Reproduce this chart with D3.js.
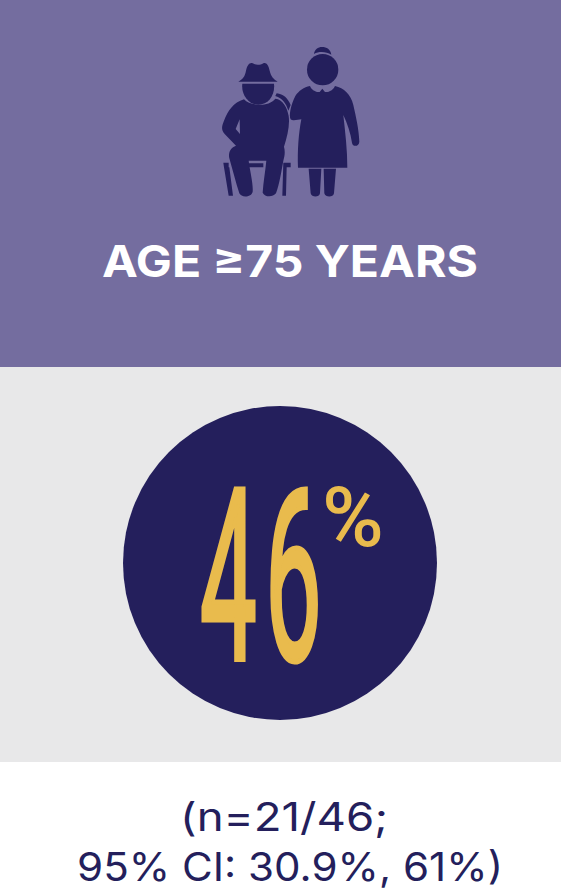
<!DOCTYPE html>
<html><head><meta charset="utf-8">
<script src="https://cdn.jsdelivr.net/npm/d3@7"></script>
<style>html,body{margin:0;padding:0;background:#fff}svg{display:block}</style>
</head><body><div id="c"></div>
<script>
const bandNames = ["header","result","footer"];
const bandEnds = [367,762,891];
const bandColors = ["#746d9f","#e8e8e9","#ffffff"];
const titleText = "AGE ≥75 YEARS";
const percentDigits = ["4","6"];
const countValue = [21,46];
const ciValues = ["30.9%","61%"];
const ink = "#241f5c", gold = "#e9bb4d";
const W=561,H=891;
const svg=d3.select("#c").append("svg").attr("width",W).attr("height",H);
svg.selectAll("rect.band").data(bandNames).join("rect").attr("class","band")
 .attr("x",0).attr("width",W)
 .attr("y",(d,i)=>i?bandEnds[i-1]:0)
 .attr("height",(d,i)=>bandEnds[i]-(i?bandEnds[i-1]:0))
 .attr("fill",(d,i)=>bandColors[i]);

const g=svg.append("g").attr("transform","translate(200,30) scale(0.3333)").attr("fill",ink);
const iconPaths=[
 "M115 155 C128 147 135 140 138 122 C142 104 150 96 158 100 C168 106 180 106 190 100 C198 96 205 104 209 122 C213 140 222 148 233 155 Z",
 "M127 161 L222 161 C226 195 205 224 175 224 C146 224 123 195 127 161 Z",
 "M132 208 C150 228 205 232 226 206 C248 208 262 232 266 258 C270 285 262 320 252 350 C256 365 254 378 250 392 C244 425 238 465 228 490 C218 503 194 502 188 488 C190 455 196 425 199 392 L146 392 C150 425 160 460 158 485 C155 502 124 504 118 490 C108 460 98 420 88 385 C84 368 92 352 108 347 L74 312 C64 300 64 292 72 272 C84 242 100 218 132 208 Z M119 268 L107 297 L120 312 Z M229 270 L231 308 L225 320 Z",
 "M70 398 L86 398 L86 412 L88 412 L99 497 L86 497 L72 412 Z M147 400 L190 400 L190 412 L147 412 Z M250 398 L272 398 L272 412 L260 412 L258 497 L247 497 Z",
 "M230 190 C250 192 264 205 272 225 L265 242 C258 220 248 205 226 198 Z",
 "M342 72 C344 58 354 51 366 51 C380 51 392 58 394 74 C378 64 356 64 342 72 Z",
 "M321 119 A47 47 0 1 1 415 119 A47 47 0 1 1 321 119 Z",
 "M330 168 C334 180 350 188 359 186 L367 176 L375 186 C386 188 400 180 405 168 C432 174 452 192 460 225 C468 260 477 300 478 335 C478 350 458 352 456 338 C452 310 442 280 430 255 C436 310 442 360 442 413 L294 413 C292 360 296 310 304 268 C295 268 280 275 272 268 C266 258 272 225 286 198 C296 182 312 172 330 168 Z",
 "M326 416 L364 416 L360 490 C358 503 335 503 332 490 Z M371 416 L408 416 L402 490 C400 503 376 503 373 490 Z"
];
g.selectAll("path").data(iconPaths).join("path").attr("d",d=>d);

svg.append("text").attr("x",102).attr("y",277)
 .attr("font-family","Inter").attr("font-weight",700).attr("font-size",44)
 .attr("textLength",376).attr("lengthAdjust","spacingAndGlyphs")
 .attr("fill","#fff").text(titleText);

svg.append("circle").attr("cx",280).attr("cy",563).attr("r",157).attr("fill",ink);

const digitX=d3.scaleOrdinal().domain(percentDigits).range([200,265]);
svg.selectAll("text.digit").data(percentDigits).join("text").attr("class","digit")
 .attr("transform",d=>`translate(${digitX(d)},660) scale(0.42,1)`)
 .attr("font-family","Roboto").attr("font-weight",400).attr("font-size",240)
 .attr("fill",gold).attr("stroke",gold).attr("stroke-width",4)
 .style("vector-effect","non-scaling-stroke").text(d=>d);
svg.append("text").attr("x",322).attr("y",546).attr("font-family","Roboto").attr("font-weight",500)
 .attr("font-size",84).attr("fill",gold).text("%");

svg.append("text").attr("x",180).attr("y",831)
 .attr("font-family","Inter").attr("font-size",39).attr("fill",ink)
 .attr("textLength",208).attr("lengthAdjust","spacingAndGlyphs")
 .text(`(n=${countValue[0]}/${countValue[1]};`);
svg.append("text").attr("x",77).attr("y",881)
 .attr("font-family","Inter").attr("font-size",39).attr("fill",ink)
 .attr("textLength",426).attr("lengthAdjust","spacingAndGlyphs")
 .text(`95% CI: ${ciValues[0]}, ${ciValues[1]})`);
</script></body></html>
